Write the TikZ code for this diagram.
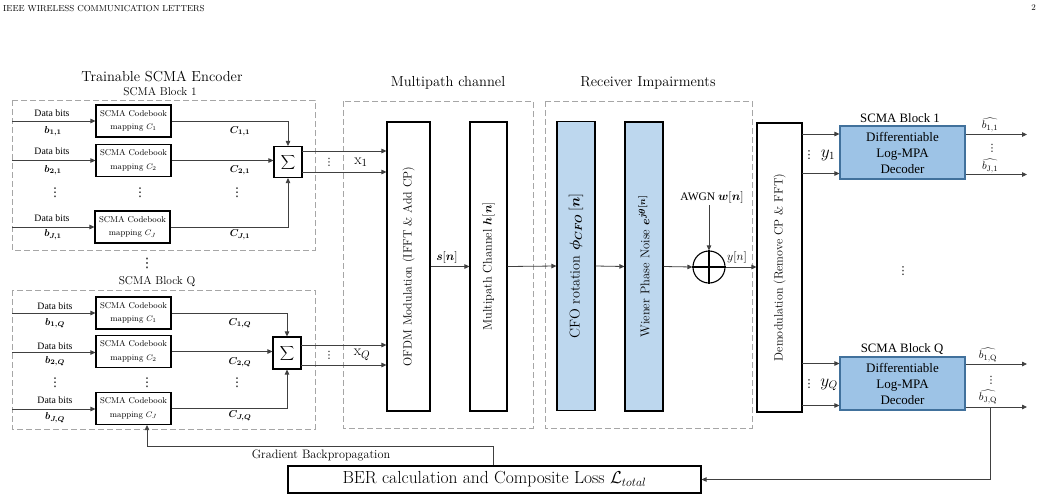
\documentclass[tikz,border=0pt]{standalone}
\usepackage{fontspec}
\usepackage{bm}
\usetikzlibrary{arrows.meta}
\newfontfamily\tnr{Liberation Serif}
\newfontfamily\dvs{DejaVu Sans}
\newcommand{\myfs}[1]{\fontsize{#1}{#1}\selectfont}
\newcommand{\vdd}{{\dvs ⋮}}
\definecolor{lc}{HTML}{404040}
\definecolor{dc}{HTML}{A6A6A6}
\definecolor{lb}{HTML}{BDD7EE}
\definecolor{deb}{HTML}{9DC3E6}
\definecolor{debb}{HTML}{41719C}
\tikzset{
  ln/.style={draw=lc, line width=0.8pt},
  arr/.style={ln, -{Triangle[length=5pt,width=4.5pt]}},
  dbox/.style={draw=dc, dash pattern=on 6pt off 3pt, line width=0.9pt},
  title/.style={font=\myfs{14.5}, inner sep=0pt},
  blk/.style={font=\myfs{11.4}, inner sep=0pt},
  cbbox/.style={draw=black, line width=1.1pt, fill=white, minimum width=75pt, minimum height=32pt, inner sep=0pt, align=center, font=\fontsize{8.5}{13.4}\selectfont},
  sig/.style={draw=black, line width=1.1pt, fill=white, minimum width=28pt, minimum height=31pt, inner sep=0pt, font=\myfs{15}},
  databits/.style={font=\tnr\myfs{9.8}, inner sep=0pt},
  bl/.style={font=\myfs{10}, inner sep=0pt},
  tallbox/.style={draw=black, line width=1.1pt, inner sep=0pt, minimum height=289pt},
  rot/.style={rotate=90, inner sep=0pt, font=\myfs{12}},
  decbox/.style={draw=debb, line width=1.1pt, fill=deb, minimum width=125pt, minimum height=53pt, inner sep=0pt, align=center, font=\tnr\fontsize{13}{16}\selectfont},
  decl/.style={font=\tnr\myfs{12.8}, inner sep=0pt},
  vd/.style={inner sep=0pt, font=\myfs{12}},
  sd/.style={inner sep=0pt, font=\myfs{10}}
}
\begin{document}
\begin{tikzpicture}[x=1pt,y=-1pt]
\useasboundingbox (0,0) rectangle (1040,501);
\fill[white] (0,0) rectangle (1040,501);

% header
\node[anchor=west, font=\myfs{8.7}, inner sep=0pt] (hdr) at (3,8) {IEEE WIRELESS COMMUNICATION LETTERS};
\node[anchor=east, font=\myfs{8.7}, inner sep=0pt] (pg) at (1036,8) {2};

% ---------------- Encoder block 1
\node[title] (tenc) at (162,76) {Trainable SCMA Encoder};
\node[blk] (tb1) at (160,92) {SCMA Block 1};
\draw[dbox] (12,100) rectangle (315,250);

\node[cbbox] (e1a) at (133.5,121) {SCMA Codebook\\mapping $C_1$};
\node[cbbox] (e1b) at (133.5,160.5) {SCMA Codebook\\mapping $C_2$};
\node[cbbox] (e1j) at (132.5,227) {SCMA Codebook\\mapping $C_J$};

\coordinate (i1a) at (12,121);
\coordinate (i1b) at (12,160.5);
\coordinate (i1j) at (12,227);
\draw[arr] (i1a) -- (e1a.west);
\draw[arr] (i1b) -- (e1b.west);
\draw[arr] (i1j) -- (e1j.west);

\node[databits] (d1a) at (52,113) {Data bits};
\node[bl] (b1a) at (53,131) {$\bm{b}_{\bm{1,1}}$};
\node[databits] (d1b) at (52,151) {Data bits};
\node[bl] (b1b) at (53,170) {$\bm{b}_{\bm{2,1}}$};
\node[databits] (d1j) at (52,218) {Data bits};
\node[bl] (b1j) at (53,234.5) {$\bm{b}_{\bm{J,1}}$};

\node[vd] (v1a) at (55,193) {\vdd};
\node[vd] (v1b) at (140,193) {\vdd};
\node[vd] (v1c) at (237,193) {\vdd};

\node[sig] (s1) at (288,162) {$\displaystyle\sum$};
\draw[arr] (e1a.east) -| (s1.north);
\draw[arr] (e1b.east) -- (e1b.east -| s1.west);
\draw[arr] (e1j.east) -| (s1.south);

\node[bl] (c1a) at (240,131) {$\bm{C}_{\bm{1,1}}$};
\node[bl] (c1b) at (240,170) {$\bm{C}_{\bm{2,1}}$};
\node[bl] (c1j) at (240,234.5) {$\bm{C}_{\bm{J,1}}$};

% ---------------- Encoder block Q
\node[vd, font=\myfs{13}] (vmid) at (147,263) {\vdd};
\node[blk] (tbq) at (157,282) {SCMA Block Q};
\draw[dbox] (12,290) rectangle (315,429);

\node[cbbox] (eqa) at (133.5,313) {SCMA Codebook\\mapping $C_1$};
\node[cbbox] (eqb) at (133.5,351.5) {SCMA Codebook\\mapping $C_2$};
\node[cbbox] (eqj) at (133.5,408.5) {SCMA Codebook\\mapping $C_J$};

\coordinate (iqa) at (12,313);
\coordinate (iqb) at (12,352.5);
\coordinate (iqj) at (12,409);
\draw[arr] (iqa) -- (iqa -| eqa.west);
\draw[arr] (iqb) -- (iqb -| eqb.west);
\draw[arr] (iqj) -- (iqj -| eqj.west);

\node[databits] (dqa) at (55,306) {Data bits};
\node[bl] (bqa) at (55,323) {$\bm{b}_{\bm{1,Q}}$};
\node[databits] (dqb) at (55,346.5) {Data bits};
\node[bl] (bqb) at (55,361) {$\bm{b}_{\bm{2,Q}}$};
\node[databits] (dqj) at (55,400.5) {Data bits};
\node[bl] (bqj) at (55,417.5) {$\bm{b}_{\bm{J,Q}}$};

\node[vd] (vqa) at (55,383) {\vdd};
\node[vd] (vqb) at (147,383) {\vdd};
\node[vd] (vqc) at (237,383) {\vdd};

\node[sig, minimum height=32pt] (sq) at (287,353) {$\displaystyle\sum$};
\draw[arr] (eqa.east) -| (sq.north);
\draw[arr] (eqb.east) -- (eqb.east -| sq.west);
\draw[arr] (eqj.east) -| (sq.south);

\node[bl] (cqa) at (240,323) {$\bm{C}_{\bm{1,Q}}$};
\node[bl] (cqb) at (240,362) {$\bm{C}_{\bm{2,Q}}$};
\node[bl] (cqj) at (240,415.5) {$\bm{C}_{\bm{J,Q}}$};

% ---------------- Multipath channel
\node[title] (tmp) at (448,83) {Multipath channel};
\draw[dbox] (343,101) rectangle (533,428);
\node[tallbox, minimum width=43pt] (ofdm) at (408.5,266.5) {};
\node[rot] (ofdmt) at (ofdm.center) {OFDM Modulation (IFFT \& Add CP)};
\node[tallbox, minimum width=37pt] (mpc) at (488.5,266.5) {};
\node[rot, font=\myfs{12.4}] (mpct) at (mpc.center) {Multipath Channel $\bm{h}[\bm{n}]$};

\coordinate (s1o1) at (302,151);
\coordinate (s1o2) at (302,172);
\draw[arr] (s1o1) -- (s1o1 -| ofdm.west);
\draw[arr] (s1o2) -- (s1o2 -| ofdm.west);
\node[sd] (x1d) at (329,162) {\vdd};
\node[font=\myfs{15}, inner sep=0pt] (x1) at (361,162) {$\mathrm{x}_1$};

\coordinate (sqo1) at (301,345);
\coordinate (sqo2) at (301,365);
\draw[arr] (sqo1) -- (sqo1 -| ofdm.west);
\draw[arr] (sqo2) -- (sqo2 -| ofdm.west);
\node[sd] (xqd) at (329,355) {\vdd};
\node[font=\myfs{15}, inner sep=0pt] (xq) at (362,355) {$\mathrm{x}_Q$};

\draw[arr] (ofdm.east) -- (mpc.west);
\node[font=\myfs{11.5}, inner sep=0pt] (sn) at (447,257) {$\bm{s}[\bm{n}]$};

% ---------------- Receiver impairments
\node[title] (trx) at (648,83) {Receiver Impairments};
\draw[dbox] (545,101) rectangle (752,428);
\node[tallbox, fill=lb, minimum width=38pt] (cfo) at (576,266) {};
\node[rot, font=\myfs{14.2}] (cfot) at (cfo.center) {CFO rotation $\bm{\phi}_{\bm{CFO}}\,[\bm{n}]$};
\node[tallbox, fill=lb, minimum width=38pt] (wpn) at (644,266.5) {};
\node[rot, font=\myfs{12.6}] (wpnt) at (wpn.center) {Wiener Phase Noise $\bm{e}^{\bm{j\theta[n]}}$};

\draw[arr] (mpc.east) -- (cfo.west);
\draw[arr] (cfo.east) -- (wpn.west);

\node[circle, draw=black, line width=1.1pt, minimum size=32pt, inner sep=0pt] (add) at (709,267) {};
\draw[line width=1.1pt] (add.north) -- (add.south) (add.west) -- (add.east);
\draw[arr] (wpn.east) -- (add.west);

\node[font=\tnr\myfs{11.5}, inner sep=0pt] (awgn) at (712,197) {AWGN $\bm{w}[\bm{n}]$};
\coordinate (awgnb) at (709,205);
\draw[arr] (awgnb) -- (add.north);

% ---------------- Demodulation & decoders
\node[tallbox, minimum width=45pt] (dem) at (779.5,267.5) {};
\node[rot] (demt) at (dem.center) {Demodulation (Remove CP \& FFT)};
\draw[arr] (add.east) -- (add.east -| dem.west);
\node[font=\myfs{12}, inner sep=0pt] (yn) at (737,257) {$y[n]$};

\node[decbox] (dec1) at (902.5,152.5) {Differentiable\\Log-MPA\\Decoder};
\node[decl] (tdb1) at (900,118) {SCMA Block 1};
\node[decbox] (decq) at (902.5,383.5) {Differentiable\\Log-MPA\\Decoder};
\node[decl] (tdbq) at (902,349) {SCMA Block Q};

\coordinate (y1a) at (802,134);
\coordinate (y1b) at (802,173.5);
\coordinate (yqa) at (802,363.5);
\coordinate (yqb) at (802,405.5);
\draw[arr] (y1a) -- (y1a -| dec1.west);
\draw[arr] (y1b) -- (y1b -| dec1.west);
\draw[arr] (yqa) -- (yqa -| decq.west);
\draw[arr] (yqb) -- (yqb -| decq.west);
\node[sd, font=\myfs{11}] (y1d) at (809,155) {\vdd};
\node[font=\myfs{16}, inner sep=0pt] (y1l) at (828,155) {$y_1$};
\node[sd, font=\myfs{11}] (yqd) at (809,384) {\vdd};
\node[font=\myfs{16}, inner sep=0pt] (yql) at (829,385) {$y_Q$};

\node[sd, font=\myfs{11}] (vdec) at (903,271) {\vdd};

\coordinate (o1a) at (1027,134.5);
\coordinate (o1b) at (1027,174.5);
\coordinate (oqa) at (1027,364);
\coordinate (oqb) at (1027,407);
\draw[arr] (o1a -| dec1.east) -- (o1a);
\draw[arr] (o1b -| dec1.east) -- (o1b);
\draw[arr] (oqa -| decq.east) -- (oqa);
\draw[arr] (oqb -| decq.east) -- (oqb);

\node[font=\tnr\myfs{11}, inner sep=0pt] (bh1a) at (990,125) {$\widehat{b_{1,1}}$};
\node[sd] (bh1d) at (992,148) {\vdd};
\node[font=\tnr\myfs{11}, inner sep=0pt] (bh1b) at (990,166) {$\widehat{b_{\mathrm{J},1}}$};
\node[font=\tnr\myfs{11}, inner sep=0pt] (bhqa) at (988,355) {$\widehat{b_{1,\mathrm{Q}}}$};
\node[sd] (bhqd) at (991,380) {\vdd};
\node[font=\tnr\myfs{11}, inner sep=0pt] (bhqb) at (988,397) {$\widehat{b_{\mathrm{J},\mathrm{Q}}}$};

% ---------------- Loss & feedback
\node[draw=black, line width=1.1pt, minimum width=413pt, minimum height=27pt, inner sep=0pt, font=\myfs{17.5}] (loss) at (494.5,479.5) {BER calculation and Composite Loss $\mathcal{L}_{total}$};
\coordinate (fb) at (990,407);
\draw[arr] (fb) |- (loss.east);
\coordinate (gtop) at (493,446);
\coordinate (gturn) at (147,446);
\draw[arr] (gtop |- loss.north) -- (gtop) -- (gturn) -- (gturn |- eqj.south);
\node[font=\myfs{12.2}, inner sep=0pt] (grad) at (321,455) {Gradient Backpropagation};
\end{tikzpicture}
\end{document}
